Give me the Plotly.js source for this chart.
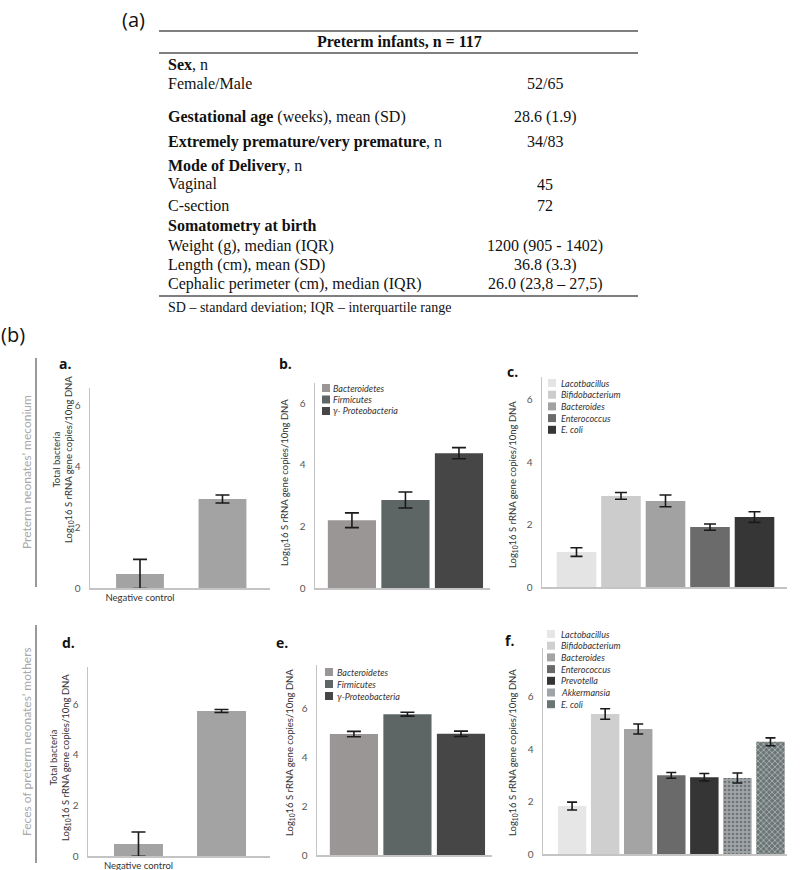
<!DOCTYPE html>
<html>
<head>
<meta charset="utf-8">
<script src="https://cdn.plot.ly/plotly-3.0.1.min.js"></script>
<style>html,body{margin:0;padding:0;background:#fff;}#chart{width:800px;height:870px;}</style>
</head>
<body>
<div id="chart"></div>
<script>
// ---------------- DATA ----------------
const tableHeader = "Preterm infants, n = 117";
const tableLabels = [
  "<b>Sex</b>, n",
  "Female/Male",
  "<b>Gestational age</b> (weeks), mean (SD)",
  "<b>Extremely premature/very premature</b>, n",
  "<b>Mode of Delivery</b>, n",
  "Vaginal",
  "C-section",
  "<b>Somatometry at birth</b>",
  "Weight (g), median (IQR)",
  "Length (cm), mean (SD)",
  "Cephalic perimeter (cm), median (IQR)"
];
const tableValues = ["", "52/65", "28.6 (1.9)", "34/83", "", "45", "72", "", "1200 (905 - 1402)", "36.8 (3.3)", "26.0 (23,8 – 27,5)"];
const tableNote = "SD – standard deviation; IQR – interquartile range";

const rowLabels = ["Preterm neonates’ meconium", "Feces of preterm neonates’ mothers"];
const yTitle = "Log<sub>10</sub>16 S rRNA gene copies/10ng DNA";
const totalTitle = "Total bacteria";

// panel a (meconium, total bacteria)
const aCats = ["Negative control", "Total bacteria"];
const aVals = [0.46, 2.92];
const aErr  = [0.48, 0.13];
// panel b (meconium, phyla)
const bCats = ["Bacteroidetes", "Firmicutes", "γ- Proteobacteria"];
const bVals = [2.20, 2.86, 4.38];
const bErr  = [0.24, 0.26, 0.18];
// panel c (meconium, genera)
const cCats = ["Lacotbacillus", "Bifidobacterium", "Bacteroides", "Enterococcus", "E. coli"];
const cVals = [1.12, 2.92, 2.76, 1.92, 2.24];
const cErr  = [0.14, 0.11, 0.19, 0.10, 0.17];
// panel d (mothers, total bacteria)
const dCats = ["Negative control", "Total bacteria"];
const dVals = [0.47, 5.73];
const dErr  = [0.48, 0.06];
// panel e (mothers, phyla)
const eCats = ["Bacteroidetes", "Firmicutes", "γ-Proteobacteria"];
const eVals = [4.94, 5.75, 4.95];
const eErr  = [0.11, 0.08, 0.11];
// panel f (mothers, genera)
const fCats = ["Lactobacillus", "Bifidobacterium", "Bacteroides", "Enterococcus", "Prevotella", "Akkermansia", "E. coli"];
const fVals = [1.83, 5.34, 4.77, 3.00, 2.93, 2.90, 4.28];
const fErr  = [0.15, 0.20, 0.19, 0.11, 0.14, 0.19, 0.15];

// ---------------- STYLE / LAYOUT ----------------
const W = 800, H = 870;
const px = x => x / W;
const py = y => 1 - y / H;
const SANS = "Lato, Open Sans, sans-serif";
const SANS2 = "Open Sans, Noto Sans, sans-serif";
const SERIF = "Liberation Serif, Times New Roman, serif";

const totalColor = "#a3a3a3";
const phylaColors = ["#9b9696", "#5d6664", "#464646"];
const cColors = ["#e4e4e4", "#cccccc", "#a2a2a2", "#6b6b6b", "#363636"];
const fColors = ["#e6e6e6", "#cfcfcf", "#a4a4a4", "#6a6a6a", "#353535", "#9ea4a7", "#6b7575"];
const fPatShape = ["", "", "", "", "", ".", "x"];
const fPatFg = ["#000", "#000", "#000", "#000", "#000", "#eeeeee", "#3a4242"];

// panel boxes in pixels
const panels = {
  a: {x0: 90,  x1: 270, y0: 388, y1: 588, ymax: 6.56, xr: [-0.606, 1.576], w: 0.58, cap: 7},
  b: {x0: 315, x1: 490, y0: 383, y1: 588, ymax: 6.66, xr: [-0.69, 2.58],   w: 0.9,  cap: 7},
  c: {x0: 542, x1: 787, y0: 377, y1: 587, ymax: 6.73, xr: [-0.775, 4.73],  w: 0.89, cap: 6},
  d: {x0: 88,  x1: 270, y0: 667, y1: 856, ymax: 7.47, xr: [-0.608, 1.584], w: 0.59, cap: 7},
  e: {x0: 317, x1: 492, y0: 665, y1: 855, ymax: 7.76, xr: [-0.69, 2.58],   w: 0.9,  cap: 7},
  f: {x0: 543, x1: 787, y0: 648, y1: 854, ymax: 7.86, xr: [-0.88, 6.5],    w: 0.86, cap: 5}
};
const order = ["a", "b", "c", "d", "e", "f"];

const layout = {
  width: W, height: H,
  margin: {l: 0, r: 0, t: 0, b: 0},
  paper_bgcolor: "#fff", plot_bgcolor: "rgba(0,0,0,0)",
  showlegend: false,
  barmode: "overlay",
  font: {family: SANS, color: "#333"},
  annotations: [], shapes: []
};

order.forEach((k, i) => {
  const p = panels[k];
  const sx = i === 0 ? "" : String(i + 1);
  const showNeg = (k === "a" || k === "d");
  layout["xaxis" + sx] = {
    domain: [px(p.x0), px(p.x1)], anchor: "y" + sx,
    range: p.xr, type: "category",
    showline: true, linecolor: "#c4c4c4", linewidth: 1.5,
    showgrid: false, zeroline: false, ticks: "",
    showticklabels: showNeg,
    tickvals: showNeg ? ["Negative control"] : [],
    ticktext: showNeg ? ["Negative control"] : [],
    ticklabelstandoff: 0,
    tickfont: {family: SANS, size: 9.5, color: "#333"},
    fixedrange: true
  };
  layout["yaxis" + sx] = {
    domain: [py(p.y1), py(p.y0)], anchor: "x" + sx,
    range: [0, p.ymax],
    showline: true, linecolor: "#c4c4c4", linewidth: 1.5,
    showgrid: false, zeroline: false, ticks: "",
    tickvals: [0, 2, 4, 6], ticklabelstandoff: 6,
    tickfont: {family: SANS, size: 10, color: "#555"},
    fixedrange: true
  };
});

function barTrace(k, i, cats, vals, errs, colors) {
  const p = panels[k];
  const sx = i === 0 ? "" : String(i + 1);
  return {
    type: "bar", x: cats, y: vals, width: p.w,
    xaxis: "x" + sx, yaxis: "y" + sx,
    marker: {color: colors, line: {width: 0}},
    error_y: {type: "data", array: errs, visible: true, color: "#1a1a1a", thickness: 1.6, width: p.cap},
    hoverinfo: "skip"
  };
}

const data = [
  barTrace("a", 0, aCats, aVals, aErr, aCats.map(() => totalColor)),
  barTrace("b", 1, bCats, bVals, bErr, phylaColors),
  barTrace("c", 2, cCats, cVals, cErr, cColors),
  barTrace("d", 3, dCats, dVals, dErr, dCats.map(() => totalColor)),
  barTrace("e", 4, eCats, eVals, eErr, phylaColors),
  barTrace("f", 5, fCats, fVals, fErr, fColors)
];
data[5].marker.pattern = {shape: fPatShape, fgcolor: fPatFg, fillmode: "overlay", size: 4, solidity: 0.35};

const A = layout.annotations, S = layout.shapes;
function txt(x, y, text, opt) {
  A.push(Object.assign({xref: "paper", yref: "paper", x: px(x), y: py(y), text: text,
    showarrow: false, xanchor: "left", yanchor: "middle", borderpad: 0,
    font: {family: SANS, size: 10, color: "#222"}}, opt || {}));
}
function hline(x0, x1, y, color, w) {
  S.push({type: "line", xref: "paper", yref: "paper", x0: px(x0), x1: px(x1), y0: py(y), y1: py(y),
    line: {color: color, width: w}});
}
function vline(x, y0, y1, color, w) {
  S.push({type: "line", xref: "paper", yref: "paper", x0: px(x), x1: px(x), y0: py(y0), y1: py(y1),
    line: {color: color, width: w}});
}

// ---- (a) table ----
txt(133, 20, "(a)", {xanchor: "center", font: {family: SANS2, size: 20, color: "#111"}});
hline(159, 638, 31, "#555", 1.5);
hline(159, 638, 53, "#555", 1.5);
hline(159, 638, 296, "#555", 1.5);
txt(399, 42, "<b>" + tableHeader + "</b>", {xanchor: "center", font: {family: SERIF, size: 16, color: "#111"}});
const rowY = [64, 84, 117, 142, 166, 184, 205, 226, 246, 265, 284];
tableLabels.forEach((lab, i) => {
  txt(167, rowY[i], lab, {font: {family: SERIF, size: 16, color: "#111"}});
  if (tableValues[i]) txt(545, rowY[i], tableValues[i], {xanchor: "center", font: {family: SERIF, size: 16, color: "#111"}});
});
txt(167, 307, tableNote, {font: {family: SERIF, size: 14, color: "#111"}});

// ---- (b) figure ----
txt(0, 335, "(b)", {font: {family: SANS2, size: 20, color: "#111"}});
vline(36, 358, 587, "#777", 1.5);
vline(36, 625, 863, "#777", 1.5);
txt(26, 472, rowLabels[0], {xanchor: "center", textangle: -90, font: {family: SANS, size: 12, color: "#a8a8a8"}});
txt(26, 742, rowLabels[1], {xanchor: "center", textangle: -90, font: {family: SANS, size: 12, color: "#a8a8a8"}});

// panel letters
const letterPos = {a: [65, 363], b: [285, 363], c: [512, 372], d: [68, 642], e: [282, 642], f: [510, 640]};
order.forEach(k => txt(letterPos[k][0], letterPos[k][1], "<b>" + k + ".</b>", {xanchor: "center", font: {family: SANS2, size: 14, color: "#111"}}));

// y-axis titles
const ytFont = {family: SANS, size: 9.5, color: "#333"};
txt(63, 460, totalTitle + "<br>" + yTitle, {xanchor: "center", textangle: -90, font: ytFont});
txt(285, 483, yTitle, {xanchor: "center", textangle: -90, font: ytFont});
txt(513, 485, yTitle, {xanchor: "center", textangle: -90, font: ytFont});
txt(60, 758, totalTitle + "<br>" + yTitle, {xanchor: "center", textangle: -90, font: ytFont});
txt(290, 753, yTitle, {xanchor: "center", textangle: -90, font: ytFont});
txt(513, 753, yTitle, {xanchor: "center", textangle: -90, font: ytFont});

// compact legends (swatch + italic name) built from the category/colour arrays
function legend(cats, colors, sx, tx, y0, dy) {
  cats.forEach((c, i) => {
    const y = y0 + i * dy;
    S.push({type: "rect", xref: "paper", yref: "paper", x0: px(sx), x1: px(sx + 8), y0: py(y + 4), y1: py(y - 4),
      fillcolor: colors[i], line: {width: 0}});
    txt(tx, y, "<i>" + c + "</i>", {font: {family: SANS, size: 9, color: "#333"}});
  });
}
legend(bCats, phylaColors, 322, 332, 388, 11.5);
legend(cCats, cColors, 548, 560, 383, 11.7);
legend(eCats, phylaColors, 325, 336, 672, 12);
legend(fCats, fColors, 547, 560, 634, 11.7);

Plotly.newPlot("chart", data, layout, {displayModeBar: false, staticPlot: true});
</script>
</body>
</html>
